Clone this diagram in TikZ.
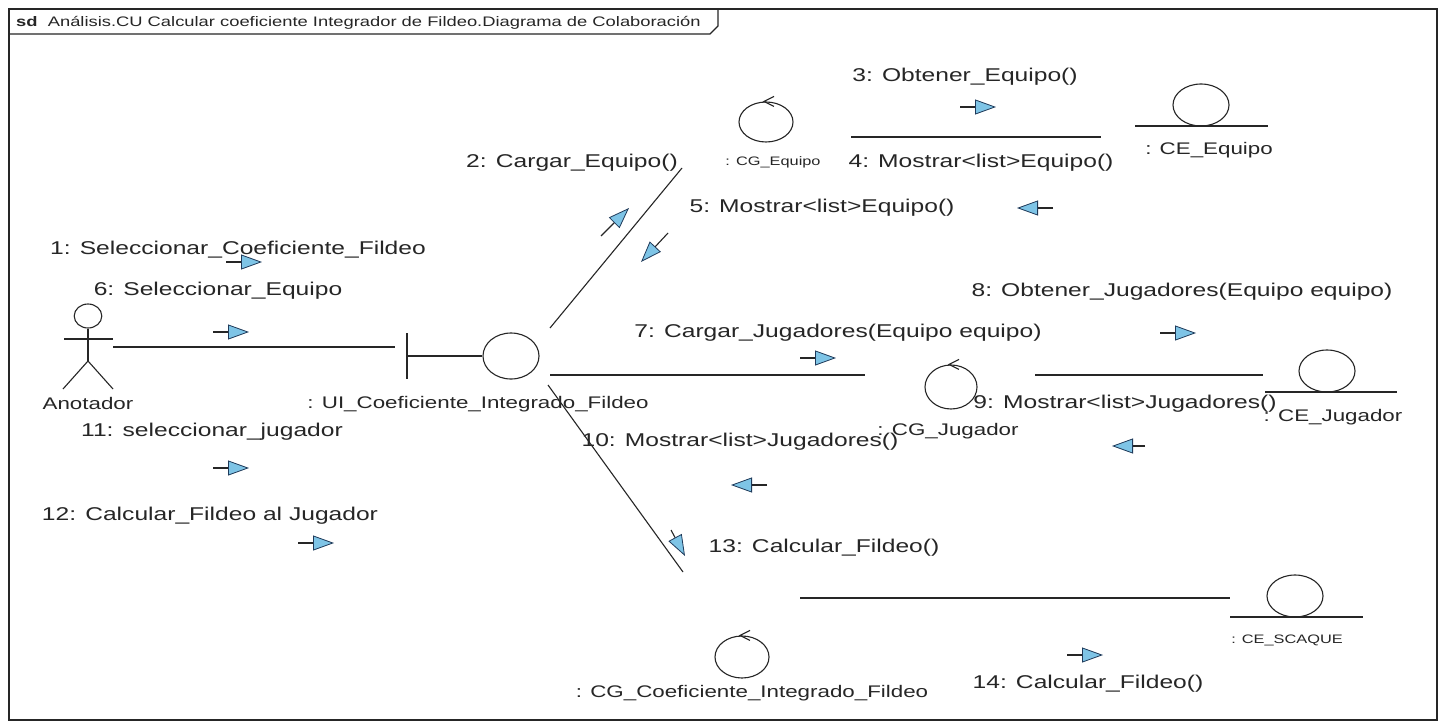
\documentclass[tikz,border=0pt]{standalone}
\usepackage{fontspec}
\setmainfont{Liberation Sans}[FakeStretch=1.33]
\usetikzlibrary{arrows.meta,shapes.geometric}
\definecolor{ink}{HTML}{262626}
\definecolor{msgfill}{HTML}{7EC4E6}
\definecolor{msgedge}{HTML}{1F3A5A}
\tikzset{
  lbl/.style={inner sep=0pt, text=ink, font=\fontsize{18.5}{20}\selectfont},
  objlbl/.style={inner sep=0pt, text=ink, font=\fontsize{16.8}{19}\selectfont},
  smalllbl/.style={inner sep=0pt, text=ink, font=\fontsize{12.3}{14}\selectfont},
  link/.style={draw=ink, line width=1.1pt},
  objshape/.style={ellipse, draw=ink, line width=1.1pt, inner sep=0pt},
  msg/.style={draw=ink, line width=1.1pt,
    -{Triangle[length=21pt,width=15pt,fill=msgfill,color=msgedge,line width=0.8pt]}},
  ctrltick/.style={draw=ink, line width=1.1pt}
}
\begin{document}
\begin{tikzpicture}[x=1pt,y=-1pt]
\useasboundingbox (0,0) rectangle (1442,725);
\fill[white] (0,0) rectangle (1442,725);

% frame and its name tag
\draw[draw=ink, line width=1.1pt] (9,9) rectangle (1437,720);
\draw[draw=ink, line width=1.1pt] (9,34) -- (710,34) -- (718,26) -- (718,9);
\node[anchor=base west, inner sep=0pt, text=ink, font=\fontsize{13.8}{16}\selectfont] (title) at (16,27)
  {\textbf{sd}\ \ Análisis.CU Calcular coeficiente Integrador de Fildeo.Diagrama de Colaboración};

% ---- actor
\node[circle, draw=ink, line width=1.1pt, minimum width=24pt, inner sep=0pt, xscale=1.15] (head) at (88,316) {};
\coordinate (hip) at (88,361);
\coordinate (armL) at (64,339);
\coordinate (armR) at (113,339);
\coordinate (legL) at (63,389);
\coordinate (legR) at (113,389);
\draw[link] (head.south) -- (hip);
\draw[link] (armL) -- (armR);
\draw[link] (legL) -- (hip) -- (legR);
\node[objlbl] (actorlbl) at (88,403) {Anotador};

% ---- boundary : UI
\node[objshape, minimum width=56pt, minimum height=46pt] (ui) at (511,356) {};
\coordinate (uibarT) at (407,333);
\coordinate (uibarB) at (407,379);
\coordinate (uibarM) at (407,356);
\draw[link] (uibarT) -- (uibarB);
\draw[link] (uibarM) -- (ui.west);
\node[objlbl] (uilbl) at (478,404) {: UI\_Coeficiente\_Integrado\_Fildeo};

% ---- control objects
\node[objshape, minimum width=54pt, minimum height=40pt] (cge) at (766,122) {};
\draw[ctrltick] ([xshift=8pt,yshift=-5pt]cge.north) -- ([xshift=-2pt]cge.north) -- ([xshift=8pt,yshift=5pt]cge.north);
\node[smalllbl] (cgelbl) at (773,162) {: CG\_Equipo};

\node[objshape, minimum width=52pt, minimum height=44pt] (cgj) at (951,387) {};
\draw[ctrltick] ([xshift=8pt,yshift=-5pt]cgj.north) -- ([xshift=-2pt]cgj.north) -- ([xshift=8pt,yshift=5pt]cgj.north);
\node[objlbl] (cgjlbl) at (948,431) {: CG\_Jugador};

\node[objshape, minimum width=54pt, minimum height=42pt] (cgc) at (742,657) {};
\draw[ctrltick] ([xshift=8pt,yshift=-5pt]cgc.north) -- ([xshift=-2pt]cgc.north) -- ([xshift=8pt,yshift=5pt]cgc.north);
\node[objlbl] (cgclbl) at (752,693) {: CG\_Coeficiente\_Integrado\_Fildeo};

% ---- entity objects
\node[objshape, minimum width=56pt, minimum height=42pt] (cee) at (1201,105) {};
\coordinate (ceeL) at (1135,126);
\coordinate (ceeR) at (1268,126);
\draw[link] (ceeL) -- (ceeR);
\node[objlbl] (ceelbl) at (1209,150) {: CE\_Equipo};

\node[objshape, minimum width=56pt, minimum height=42pt] (cej) at (1327,371) {};
\coordinate (cejL) at (1265,392);
\coordinate (cejR) at (1397,392);
\draw[link] (cejL) -- (cejR);
\node[objlbl] (cejlbl) at (1333,417) {: CE\_Jugador};

\node[objshape, minimum width=56pt, minimum height=42pt] (ces) at (1295,596) {};
\coordinate (cesL) at (1230,617);
\coordinate (cesR) at (1363,617);
\draw[link] (cesL) -- (cesR);
\node[smalllbl] (ceslbl) at (1287,640) {: CE\_SCAQUE};

% ---- links
\coordinate (actorR) at (113,347);
\coordinate (uiL) at (395,347);
\draw[link] (actorR) -- (uiL);
\coordinate (ui-ne) at (550,328);
\coordinate (cge-sw) at (682,168);
\draw[link] (ui-ne) -- (cge-sw);
\coordinate (cge-e) at (851,137);
\coordinate (cee-w) at (1101,137);
\draw[link] (cge-e) -- (cee-w);
\coordinate (ui-e) at (550,375);
\coordinate (cgj-w) at (865,375);
\draw[link] (ui-e) -- (cgj-w);
\coordinate (cgj-e) at (1035,375);
\coordinate (cej-w) at (1263,375);
\draw[link] (cgj-e) -- (cej-w);
\coordinate (ui-se) at (548,385);
\coordinate (cgc-n) at (683,572);
\draw[link] (ui-se) -- (cgc-n);
\coordinate (cgc-e) at (800,598);
\coordinate (ces-w) at (1230,598);
\draw[link] (cgc-e) -- (ces-w);

% ---- messages
\node[lbl] (m1) at (238,250) {1: Seleccionar\_Coeficiente\_Fildeo};
\node[lbl] (m6) at (218,291) {6: Seleccionar\_Equipo};
\node[lbl] (m11) at (212,432) {11: seleccionar\_jugador};
\node[lbl] (m12) at (210,516) {12: Calcular\_Fildeo al Jugador};
\node[lbl] (m2) at (572,163) {2: Cargar\_Equipo()};
\node[lbl] (m5) at (822,208) {5: Mostrar<list>Equipo()};
\node[lbl] (m3) at (965,77) {3: Obtener\_Equipo()};
\node[lbl] (m4) at (981,163) {4: Mostrar<list>Equipo()};
\node[lbl] (m7) at (838,333) {7: Cargar\_Jugadores(Equipo equipo)};
\node[lbl] (m8) at (1182,292) {8: Obtener\_Jugadores(Equipo equipo)};
\node[lbl] (m9) at (1125,404) {9: Mostrar<list>Jugadores()};
\node[lbl] (m10) at (740,442) {10: Mostrar<list>Jugadores()};
\node[lbl] (m13) at (824,548) {13: Calcular\_Fildeo()};
\node[lbl] (m14) at (1088,684) {14: Calcular\_Fildeo()};

\coordinate (a1s) at (226,262);  \coordinate (a1e) at (262,262);
\coordinate (a6s) at (213,332);  \coordinate (a6e) at (249,332);
\coordinate (a11s) at (213,468); \coordinate (a11e) at (249,468);
\coordinate (a12s) at (298,543); \coordinate (a12e) at (334,543);
\coordinate (a2s) at (601,236);  \coordinate (a2e) at (629,208);
\coordinate (a5s) at (668,233);  \coordinate (a5e) at (641,262);
\coordinate (a3s) at (960,107);  \coordinate (a3e) at (996,107);
\coordinate (a4s) at (1053,208); \coordinate (a4e) at (1017,208);
\coordinate (a7s) at (800,358);  \coordinate (a7e) at (836,358);
\coordinate (a8s) at (1160,333); \coordinate (a8e) at (1196,333);
\coordinate (a9s) at (1145,446); \coordinate (a9e) at (1112,446);
\coordinate (a10s) at (767,485); \coordinate (a10e) at (731,485);
\coordinate (a13s) at (671,530); \coordinate (a13e) at (685,556);
\coordinate (a14s) at (1067,655); \coordinate (a14e) at (1103,655);
\foreach \m in {1,6,11,12,2,5,3,4,7,8,9,10,13,14}
  \draw[msg] (a\m s) -- (a\m e);
\end{tikzpicture}
\end{document}
